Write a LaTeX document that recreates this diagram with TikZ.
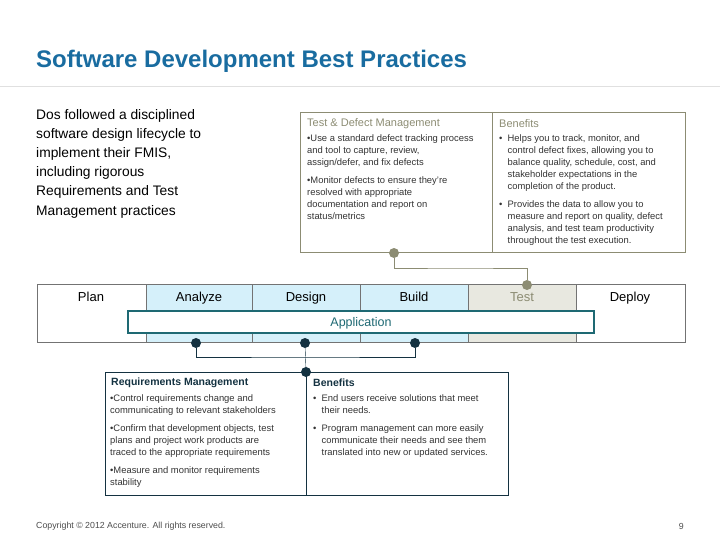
\documentclass[tikz,border=0pt]{standalone}
\usepackage{fontspec}
\setmainfont{Liberation Sans}
\begin{document}
\begin{tikzpicture}[x=1pt,y=-1pt,
 tx/.style={font=\fontsize{9.4}{12}\selectfont,text=black!80,align=left,anchor=north west,inner sep=0pt},
 hd/.style={font=\fontsize{11}{12}\selectfont,anchor=west,inner sep=0pt},
 ph/.style={font=\fontsize{13}{13}\selectfont,anchor=base},
 dotO/.style={circle,inner sep=0pt,minimum size=10pt},
 dotD/.style={circle,inner sep=0pt,minimum size=10pt}]
\definecolor{ttl}{RGB}{25,108,160}
\definecolor{ol}{RGB}{140,140,115}
\definecolor{lb}{RGB}{213,240,250}
\definecolor{lg}{RGB}{232,232,224}
\definecolor{tl}{RGB}{30,105,115}
\definecolor{nv}{RGB}{20,50,65}
\useasboundingbox (0,0) rectangle (720,540);
\node[font=\fontsize{24}{28}\selectfont\bfseries,text=ttl,anchor=west,inner sep=0pt] (title) at (36,61) {Software Development Best Practices};
\draw[black!12] (0,86) -- (720,86);
\node[font=\fontsize{13.8}{19.2}\selectfont,anchor=north west,align=left,inner sep=0pt] (intro) at (36,109) {Dos followed a disciplined\\software design lifecycle to\\implement their FMIS,\\including rigorous\\Requirements and Test\\Management practices};
% top box
\draw[ol] (300,112) rectangle (685,252);
\draw[ol] (492,112) -- (492,252);
\node[hd,text=ol] (th) at (307,124) {Test \& Defect Management};
\node[hd,text=ol] (bh) at (499,124) {Benefits};
\node[tx] (t1) at (307,134) {\textbullet Use a standard defect tracking process\\and tool to capture, review,\\assign/defer, and fix defects};
\node[tx] (t2) at (307,176) {\textbullet Monitor defects to ensure they're\\resolved with appropriate\\documentation and report on\\status/metrics};
\node[tx] (b1) at (499,134) {\textbullet\ \ Helps you to track, monitor, and\\\phantom{\textbullet\ \ }control defect fixes, allowing you to\\\phantom{\textbullet\ \ }balance quality, schedule, cost, and\\\phantom{\textbullet\ \ }stakeholder expectations in the\\\phantom{\textbullet\ \ }completion of the product.};
\node[tx] (b2) at (499,200) {\textbullet\ \ Provides the data to allow you to\\\phantom{\textbullet\ \ }measure and report on quality, defect\\\phantom{\textbullet\ \ }analysis, and test team productivity\\\phantom{\textbullet\ \ }throughout the test execution.};
% phase bar
\fill[lb] (146,284) rectangle (468,342);
\fill[lg] (468,284) rectangle (576,342);
\draw[black!55] (37,284) rectangle (685,342);
\foreach \x in {146,252,360,468,576} \draw[black!55] (\x,284) -- (\x,342);
\draw[black!55] (146,311) -- (576,311);
\node[ph] (plan) at (91,301) {Plan};
\node[ph] (an) at (199,301) {Analyze};
\node[ph] (de) at (306,301) {Design};
\node[ph] (bu) at (414,301) {Build};
\node[ph,text=ol] (te) at (522,301) {Test};
\node[ph] (dp) at (630,301) {Deploy};
\draw[tl,line width=2pt,fill=white] (128,311) rectangle (594,333);
\node[text=tl,font=\fontsize{12.5}{13}\selectfont,anchor=base] (app) at (361,326.5) {Application};
% olive connector
\node[dotO,fill=ol] (o1) at (394,253) {};
\node[dotO,fill=ol] (o2) at (527,285) {};
\draw[ol] (o1) |- (460,268) -| (o2);
% dark connectors
\node[dotD,fill=nv] (d1) at (196,343) {};
\node[dotD,fill=nv] (d2) at (305,343) {};
\node[dotD,fill=nv] (d3) at (415,343) {};
\node[dotD,fill=nv] (d4) at (306,372) {};
\draw[nv] (d1) |- (305,357) -| (d3);
\draw[nv] (d2) -- (d4);
% bottom box
\draw[nv] (105,372) rectangle (508,495);
\draw[nv] (306,372) -- (306,495);
\node[hd,text=nv,font=\fontsize{10.5}{12}\selectfont\bfseries] (rh) at (111,383) {Requirements Management};
\node[hd,text=nv,font=\fontsize{10.5}{12}\selectfont\bfseries] (bh2) at (313,383) {Benefits};
\node[tx] (r1) at (110,394) {\textbullet Control requirements change and\\communicating to relevant stakeholders};
\node[tx] (r2) at (110,424) {\textbullet Confirm that development objects, test\\plans and project work products are\\traced to the appropriate requirements};
\node[tx] (r3) at (110,466) {\textbullet Measure and monitor requirements\\stability};
\node[tx] (e1) at (313,394) {\textbullet\ \ End users receive solutions that meet\\\phantom{\textbullet\ \ }their needs.};
\node[tx] (e2) at (313,424) {\textbullet\ \ Program management can more easily\\\phantom{\textbullet\ \ }communicate their needs and see them\\\phantom{\textbullet\ \ }translated into new or updated services.};
\node[font=\fontsize{8.8}{10}\selectfont,text=black!70,anchor=west,inner sep=0pt] (copy) at (36,526) {Copyright \textcopyright\ 2012 Accenture. All rights reserved.};
\node[font=\fontsize{8.8}{10}\selectfont,text=black!70,anchor=east,inner sep=0pt] (pg) at (684,526) {9};
\end{tikzpicture}
\end{document}
